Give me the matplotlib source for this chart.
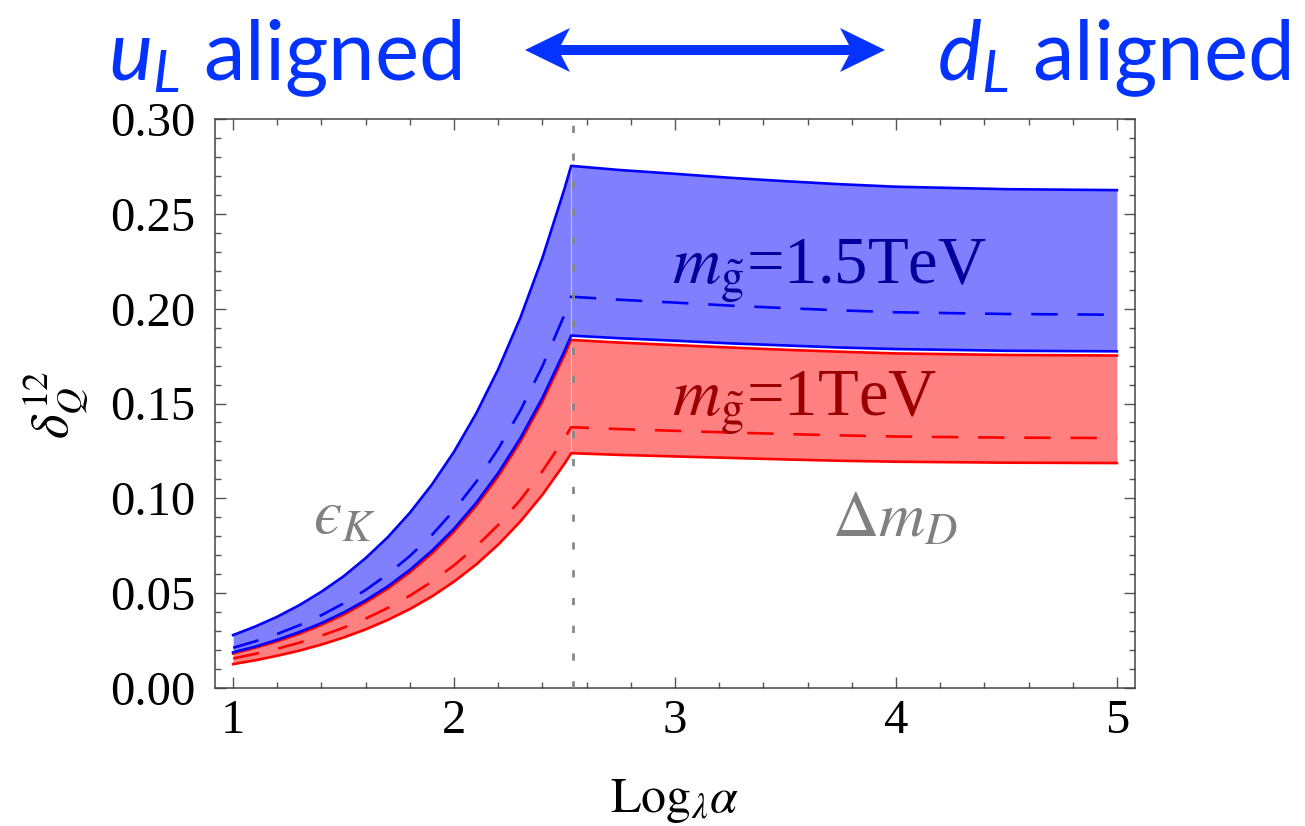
import matplotlib
matplotlib.use("Agg")
import matplotlib.pyplot as plt
from matplotlib.patches import FancyArrow
from matplotlib.ticker import MultipleLocator, FixedLocator, FixedFormatter

plt.rcParams['font.family'] = ['Liberation Serif', 'DejaVu Serif']
plt.rcParams['mathtext.fontset'] = 'stix'
plt.rcParams['mathtext.rm'] = 'Lato'
plt.rcParams['mathtext.it'] = 'Lato:italic'
plt.rcParams['mathtext.bf'] = 'Lato:bold'

# ---------------- data ----------------
x_vals = [1.0, 1.1, 1.2, 1.3, 1.4, 1.5, 1.6, 1.7, 1.8, 1.9, 2.0, 2.1, 2.2, 2.3, 2.4, 2.5, 2.53,
          2.75, 3.0, 3.25, 3.5, 3.75, 4.0, 4.5, 5.0]
kink_index = 16
vline_x = 2.54

blue_upper = [0.0279, 0.0324, 0.0376, 0.0437, 0.0508, 0.0589, 0.0685, 0.0795, 0.0924, 0.1073,
              0.1246, 0.1447, 0.1681, 0.1952, 0.2268, 0.2633, 0.2753,
              0.2731, 0.2711, 0.2690, 0.2672, 0.2656, 0.2643, 0.2630, 0.2625]
blue_mid = [0.0212, 0.0246, 0.0285, 0.0331, 0.0384, 0.0446, 0.0517, 0.0600, 0.0696, 0.0807,
            0.0937, 0.1087, 0.1261, 0.1463, 0.1697, 0.1969, 0.2063,
            0.2047, 0.2032, 0.2016, 0.2003, 0.1991, 0.1981, 0.1972, 0.1968]
blue_lower = [0.0188, 0.0218, 0.0254, 0.0295, 0.0342, 0.0398, 0.0462, 0.0536, 0.0623, 0.0724,
              0.0840, 0.0976, 0.1134, 0.1317, 0.1530, 0.1777, 0.1858,
              0.1844, 0.1831, 0.1817, 0.1806, 0.1795, 0.1787, 0.1778, 0.1775]
red_upper = [0.0182, 0.0212, 0.0246, 0.0286, 0.0333, 0.0387, 0.0451, 0.0524, 0.0610, 0.0709,
             0.0825, 0.0960, 0.1116, 0.1298, 0.1510, 0.1756, 0.1835,
             0.1821, 0.1808, 0.1795, 0.1783, 0.1773, 0.1764, 0.1756, 0.1753]
red_mid = [0.0156, 0.0180, 0.0207, 0.0239, 0.0276, 0.0318, 0.0366, 0.0422, 0.0487, 0.0561,
           0.0647, 0.0746, 0.0860, 0.0992, 0.1143, 0.1318, 0.1375,
           0.1365, 0.1356, 0.1347, 0.1339, 0.1332, 0.1326, 0.1320, 0.1318]
red_lower = [0.0126, 0.0146, 0.0170, 0.0197, 0.0229, 0.0266, 0.0309, 0.0359, 0.0416, 0.0483,
             0.0561, 0.0651, 0.0756, 0.0878, 0.1019, 0.1183, 0.1238,
             0.1229, 0.1221, 0.1213, 0.1205, 0.1198, 0.1193, 0.1188, 0.1186]

x_ticks = [1, 2, 3, 4, 5]
x_ticklabels = ['1', '2', '3', '4', '5']
y_ticks = [0.00, 0.05, 0.10, 0.15, 0.20, 0.25, 0.30]
y_ticklabels = ['0.00', '0.05', '0.10', '0.15', '0.20', '0.25', '0.30']

label_heavy = r'$m_{\tilde{\mathrm{g}}}$=1.5TeV'
label_light = r'$m_{\tilde{\mathrm{g}}}$=1TeV'
label_eps = '$\u03f5_K$'
label_dm = r'$\Delta m_D$'

# ---------------- figure ----------------
W, H = 1305, 826
fig = plt.figure(figsize=(W / 100, H / 100), dpi=100)
ax = fig.add_axes([215 / W, 1 - 688 / H, 920 / W, 569 / H])

BLUE = '#0000FF'
RED = '#FF0000'
ax.fill_between(x_vals, red_lower, red_upper, color='#FF8080', lw=0, zorder=1)
ax.fill_between(x_vals, blue_lower, blue_upper, color='#8080FF', lw=0, zorder=1)

# faint seams at the kink
ax.vlines(x_vals[kink_index], red_lower[kink_index], red_upper[kink_index],
          color='white', alpha=0.45, lw=0.9, zorder=2)
ax.vlines(x_vals[kink_index], blue_lower[kink_index], blue_upper[kink_index],
          color='white', alpha=0.45, lw=0.9, zorder=2)

lw = 1.9
dash = (10, 7.5)
ax.plot(x_vals, red_upper, color=RED, lw=lw, zorder=3)
ax.plot(x_vals, red_lower, color=RED, lw=lw, zorder=3)
ax.plot(x_vals, red_mid, color=RED, lw=lw, dashes=dash, zorder=3)
ax.plot(x_vals, blue_upper, color=BLUE, lw=lw, zorder=3)
ax.plot(x_vals, blue_lower, color=BLUE, lw=lw, zorder=3)
ax.plot(x_vals, blue_mid, color=BLUE, lw=lw, dashes=dash, zorder=3)

ax.axvline(vline_x, color='#888888', lw=2.0, dashes=(2.6, 7.4), zorder=4)

ax.set_xlim(0.918, 5.082)
ax.set_ylim(0.0, 0.30)

ax.xaxis.set_major_locator(FixedLocator(x_ticks))
ax.xaxis.set_major_formatter(FixedFormatter(x_ticklabels))
ax.xaxis.set_minor_locator(MultipleLocator(0.2))
ax.yaxis.set_major_locator(FixedLocator(y_ticks))
ax.yaxis.set_major_formatter(FixedFormatter(y_ticklabels))
ax.yaxis.set_minor_locator(MultipleLocator(0.01))

ax.tick_params(which='both', direction='in', top=True, right=True, color='#555555', width=1.0)
ax.tick_params(which='major', length=8)
ax.tick_params(which='minor', length=4.6)
ax.tick_params(axis='x', which='major', labelsize=35, pad=8)
ax.tick_params(axis='y', which='major', labelsize=35, pad=14)
for sp in ax.spines.values():
    sp.set_color('#444444')
    sp.set_linewidth(1.1)

# annotations inside the plot
ax.text(2.986, 0.2137, label_heavy, color='#00009A', fontsize=48, ha='left', va='baseline', zorder=5)
ax.text(2.986, 0.1437, label_light, color='#9A0000', fontsize=48, ha='left', va='baseline', zorder=5)
ax.text(1.36, 0.0812, label_eps, color='#808080', fontsize=46, ha='left', va='baseline', zorder=5)
ax.text(3.71, 0.0800, label_dm, color='#808080', fontsize=46, ha='left', va='baseline', zorder=5)

# axis labels
fig.text(675 / W, 1 - 812 / H, r'$\mathrm{Log}_{\lambda}\alpha$', fontsize=36,
         ha='center', va='baseline')
fig.text(56 / W, 1 - 405 / H, r'$\delta_Q^{12}$', fontsize=38, rotation=90,
         ha='center', va='center')

# top header
KB = '#0433FF'
t1 = fig.text(108 / W, 1 - 80 / H, r'$u_L$ aligned', color=KB, fontsize=60,
              family='Lato', ha='left', va='baseline')
t1.set_math_fontfamily('custom')
t2 = fig.text(937 / W, 1 - 80 / H, r'$d_L$ aligned', color=KB, fontsize=60,
              family='Lato', ha='left', va='baseline')
t2.set_math_fontfamily('custom')

cx, cy = 705 / W, 1 - 50 / H
for tip in (525 / W, 885 / W):
    arr = FancyArrow(cx, cy, tip - cx, 0, width=10 / H, head_width=44 / H,
                     head_length=45 / W, length_includes_head=True, overhang=0.2,
                     color=KB, lw=0, transform=fig.transFigure)
    fig.add_artist(arr)

fig.savefig('out.png', dpi=100)
